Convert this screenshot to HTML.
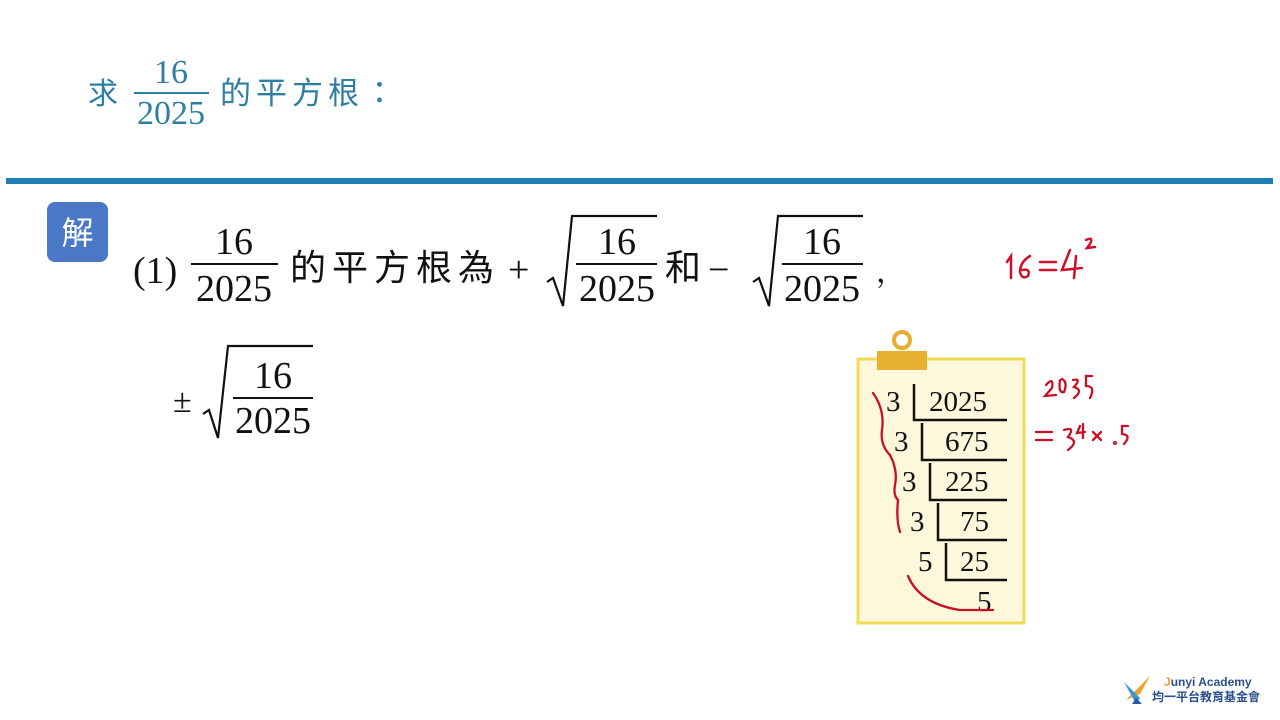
<!DOCTYPE html>
<html><head><meta charset="utf-8"><style>
body{margin:0;width:1280px;height:720px;background:#fff;overflow:hidden}
svg{display:block}
.s{font-family:"Liberation Serif","Noto Serif CJK SC",serif}
.c{font-family:"Liberation Sans","Noto Sans CJK TC",sans-serif}
</style></head><body>
<svg width="1280" height="720" viewBox="0 0 1280 720">
<g fill="#2c7fa3">
<text x="88" y="104" class="c" font-size="30">求</text>
<text x="171" y="83" class="s" font-size="34" text-anchor="middle">16</text>
<rect x="134" y="92" width="75" height="2"/>
<text x="171" y="124" class="s" font-size="34" text-anchor="middle">2025</text>
<text x="220" y="104" class="c" font-size="31" letter-spacing="5">的平方根：</text>
</g>
<rect x="6" y="178" width="1267" height="6" fill="#1f7eb2"/>
<rect x="47" y="202" width="61" height="60" rx="8" fill="#4b78c6"/>
<text x="77.5" y="244" class="c" font-size="32" fill="#fff" text-anchor="middle">解</text>
<g fill="#111" class="s">
<text x="133" y="283" font-size="38">(1)</text>
<text x="234" y="254" font-size="38" text-anchor="middle">16</text>
<rect x="191" y="263" width="87" height="2"/>
<text x="234" y="301" font-size="38" text-anchor="middle">2025</text>
<text x="290" y="280" font-size="36" letter-spacing="6" font-family="Liberation Sans,Noto Sans CJK TC,sans-serif">的平方根為</text>
<text x="508" y="282" font-size="38">+</text>
<text x="617" y="254" font-size="38" text-anchor="middle">16</text>
<rect x="576" y="263" width="81" height="2"/>
<text x="617" y="301" font-size="38" text-anchor="middle">2025</text>
<text x="665" y="280" font-size="36" font-family="Liberation Sans,Noto Sans CJK TC,sans-serif">和</text>
<text x="708" y="282" font-size="38">−</text>
<text x="822" y="254" font-size="38" text-anchor="middle">16</text>
<rect x="782" y="263" width="81" height="2"/>
<text x="822" y="301" font-size="38" text-anchor="middle">2025</text>
<text x="876" y="282" font-size="30">，</text>
<text x="173" y="412" font-size="34">±</text>
<text x="273" y="388" font-size="38" text-anchor="middle">16</text>
<rect x="233" y="397" width="80" height="2"/>
<text x="273" y="433" font-size="38" text-anchor="middle">2025</text>
</g>
<g fill="none" stroke="#111" stroke-width="2.2">
<path d="M547 282 L553 278 L563 306 L572 216 L657 216"/>
<path d="M753 282 L759 278 L769 306 L778 216 L863 216"/>
<path d="M203 414 L209 410 L218 438 L228 346 L313 346"/>
</g>
<g fill="none" stroke="#d0102a" stroke-width="2.5" stroke-linecap="round">
<path d="M1007 262 L1011 256 L1011 278"/>
<path d="M1030 256 Q1020 262 1020 272 Q1022 280 1028 276 Q1031 268 1022 270"/>
<path d="M1040 262 L1056 262 M1040 270 L1056 270"/>
<path d="M1070 250 L1062 270 L1082 268 M1076 256 L1074 278"/>
<path d="M1086 240 Q1094 236 1090 244 L1087 248 L1095 247"/>
</g>
<rect x="858" y="359" width="166" height="264" fill="#fdf7dc" stroke="#f1db55" stroke-width="3"/>
<circle cx="902" cy="340" r="8" fill="none" stroke="#e6ad2e" stroke-width="4"/>
<rect x="877" y="351" width="50" height="19" fill="#e8b030"/>
<g class="s" fill="#111" font-size="29">
<text x="886" y="411">3</text><text x="929" y="411">2025</text>
<text x="894" y="451">3</text><text x="945" y="451">675</text>
<text x="902" y="491">3</text><text x="945" y="491">225</text>
<text x="910" y="531">3</text><text x="960" y="531">75</text>
<text x="918" y="571">5</text><text x="960" y="571">25</text>
<text x="977" y="611">5</text>
</g>
<g fill="none" stroke="#111" stroke-width="2.5">
<path d="M914 384 L914 420 L1007 420"/>
<path d="M922 423 L922 460 L1007 460"/>
<path d="M930 463 L930 500 L1007 500"/>
<path d="M938 503 L938 540 L1007 540"/>
<path d="M946 543 L946 580 L1007 580"/>
</g>
<g fill="none" stroke="#c81025" stroke-width="2.3" stroke-linecap="round">
<path d="M873 393 Q885 410 882 430 Q880 445 890 455 Q898 470 895 485 Q893 495 898 500 Q896 520 900 532"/>
<path d="M908 576 Q920 604 960 610 L993 610"/>
<path d="M1046 385 Q1054 376 1052 388 L1045 396 L1056 395 M1060 380 Q1058 394 1064 392 Q1068 382 1062 379 M1073 380 Q1082 378 1074 387 Q1084 390 1074 398 M1092 376 L1086 376 L1086 386 Q1096 386 1090 398"/>
<path d="M1036 432 L1052 432 M1036 440 L1052 440"/>
<path d="M1064 430 Q1076 426 1068 437 Q1080 441 1068 450"/>
<path d="M1080 426 L1077 433 L1085 432 M1083 424 L1083 438"/>
<path d="M1093 432 L1101 440 M1101 432 L1093 440"/>
<path d="M1128 426 L1122 426 L1122 434 Q1132 435 1124 444"/>
<circle cx="1115" cy="443" r="0.8"/>
</g>
<path d="M1126 700 L1150 676 L1140 694 Z" fill="#f0a030"/>
<path d="M1124 682 L1140 698 L1136 704 Z" fill="#3a9ad0"/>
<path d="M1136 698 L1142 704 L1132 704 Z" fill="#2a5aa0"/>
<text x="1164" y="686" font-family="Liberation Sans,sans-serif" font-size="12" font-weight="bold" fill="#2a4f8a"><tspan fill="#f0a030">J</tspan>unyi Academy</text>
<text x="1152" y="701" font-family="Liberation Sans,Noto Sans CJK TC,sans-serif" font-size="12" font-weight="bold" fill="#2a4f8a">均一平台教育基金會</text>
</svg>
</body></html>
